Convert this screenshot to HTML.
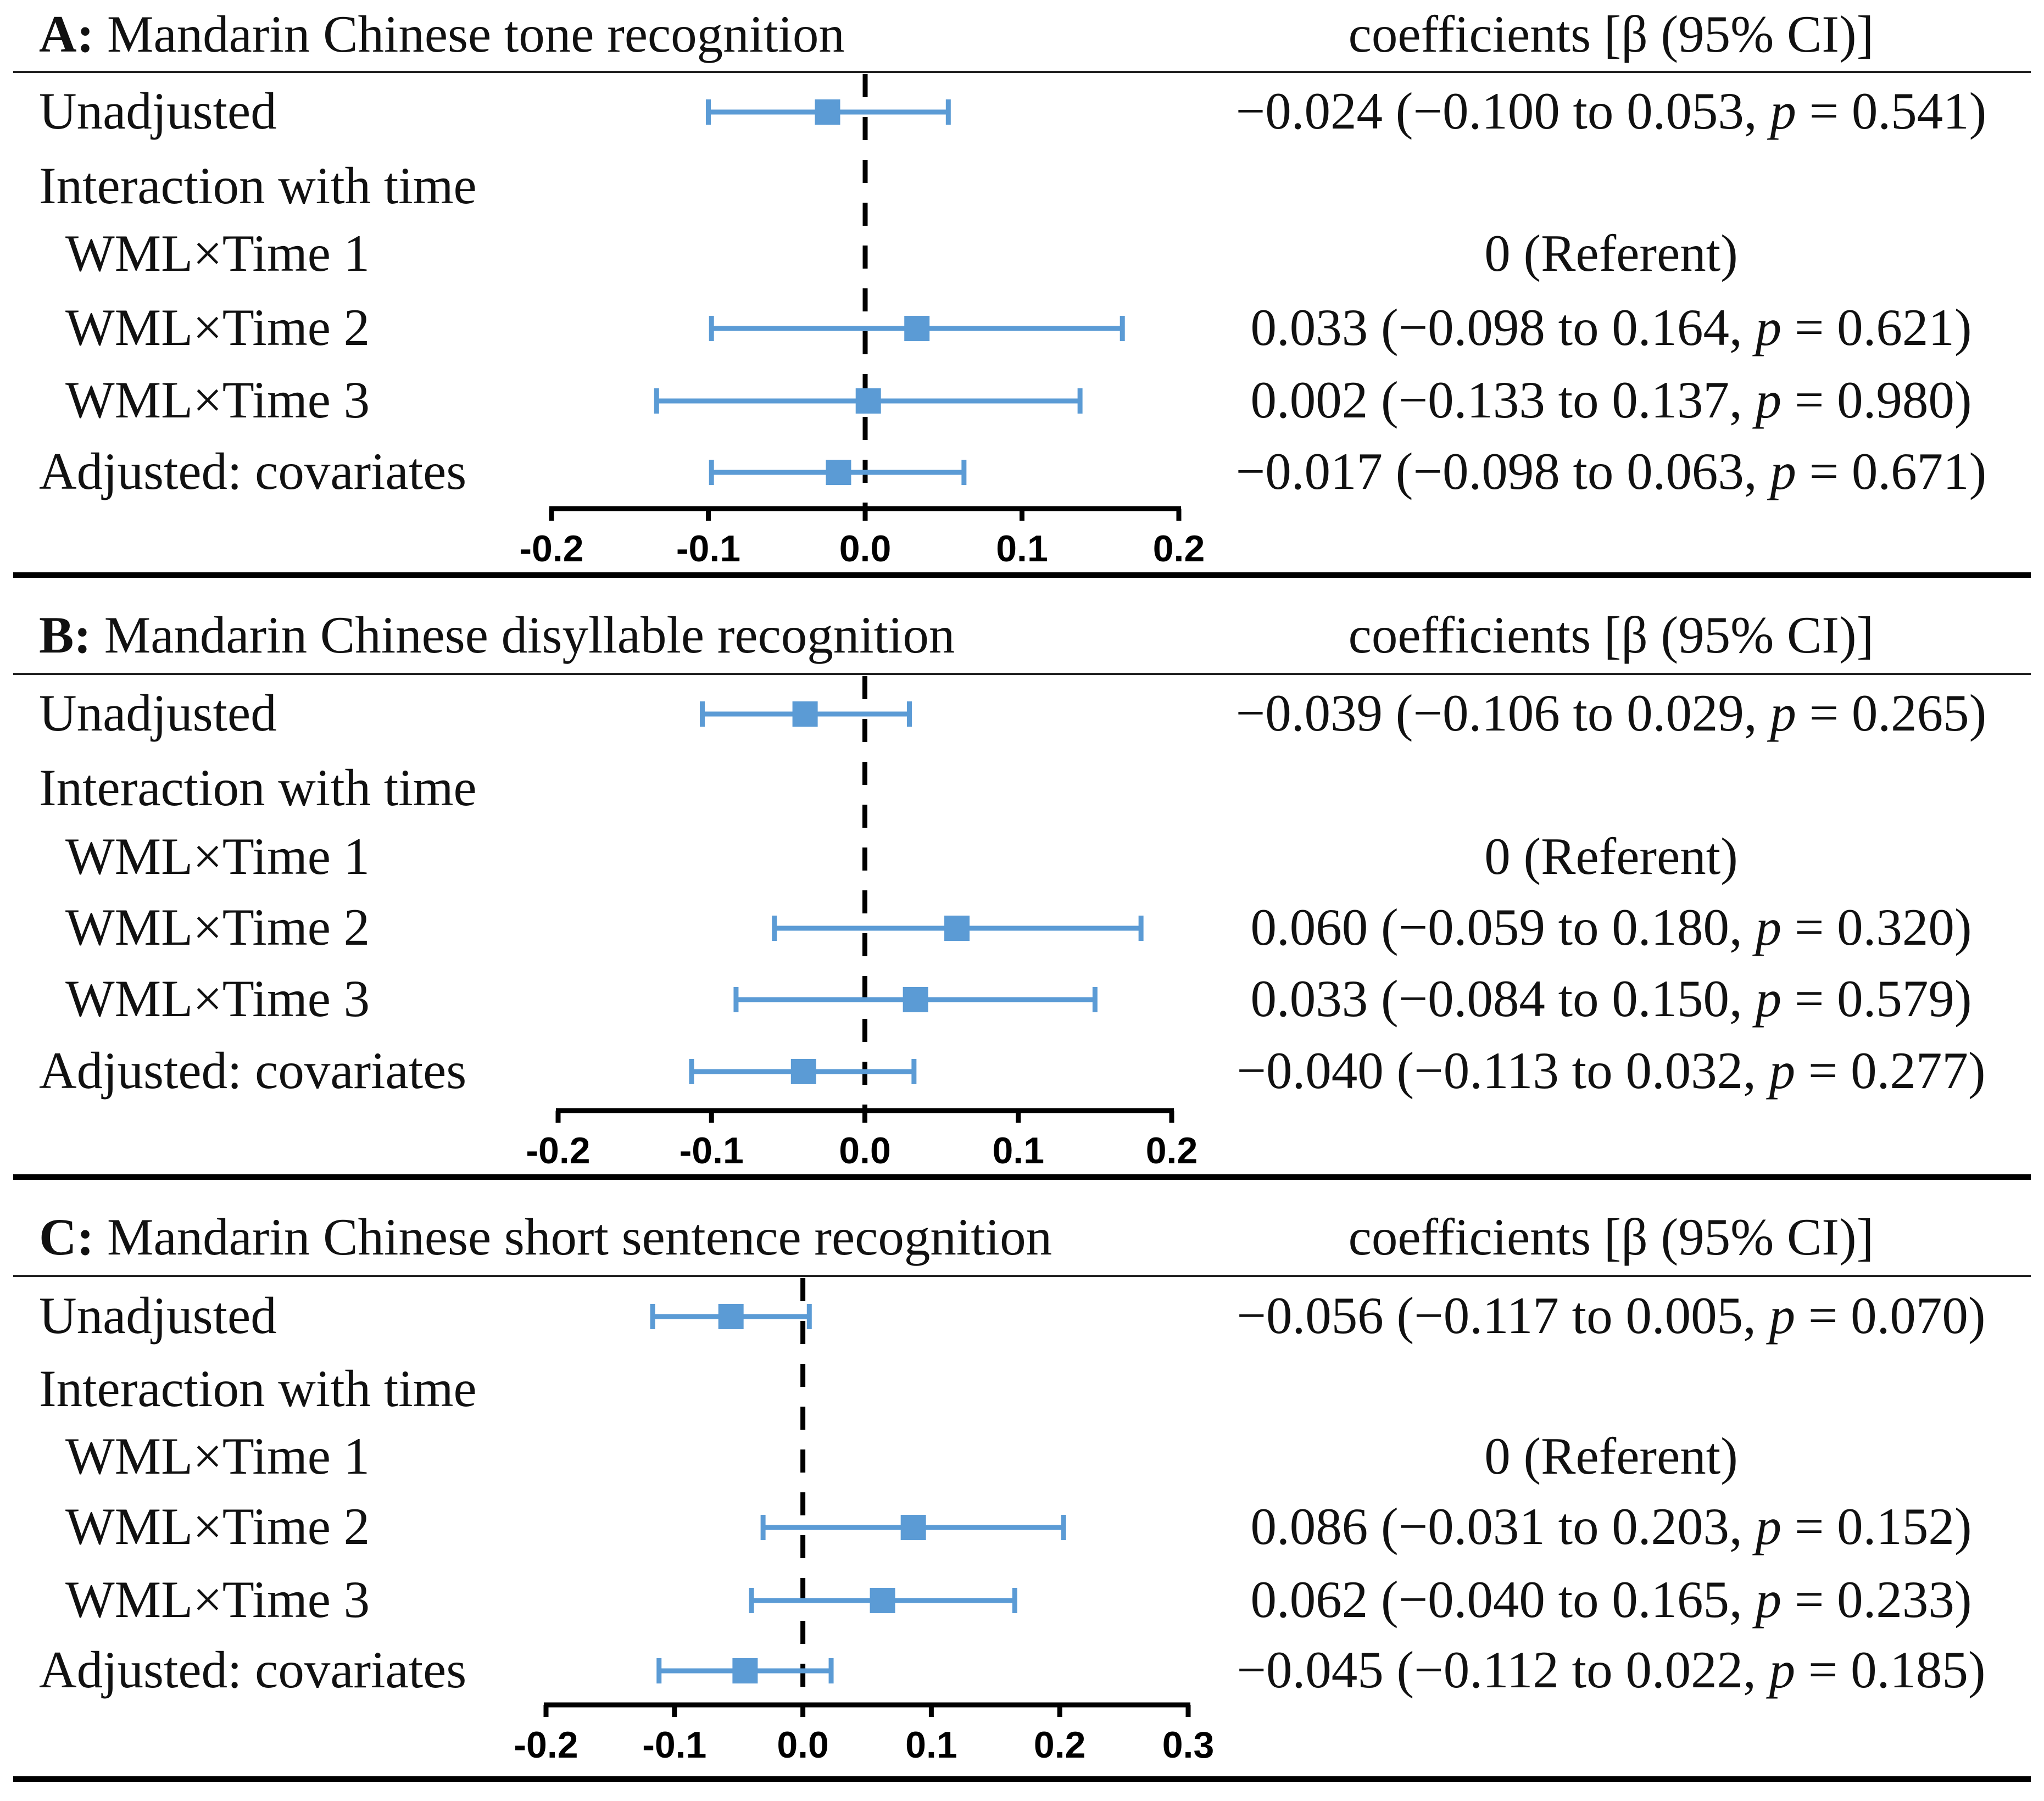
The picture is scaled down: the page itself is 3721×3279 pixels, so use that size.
<!DOCTYPE html>
<html><head><meta charset="utf-8"><style>
html,body{margin:0;padding:0;background:#fff}
svg{display:block}
.lab{font-family:"Liberation Serif",serif;font-size:95px;fill:#111}
.tick{font-family:"Liberation Sans",sans-serif;font-weight:bold;font-size:68px;fill:#000}
</style></head><body>
<svg id="chart" width="3721" height="3279" viewBox="0 0 3721 3279" xmlns="http://www.w3.org/2000/svg"></svg>
<script>
const rowLabels = ["Unadjusted","Interaction with time","WML×Time 1","WML×Time 2","WML×Time 3","Adjusted: covariates"];
const titlesA = ["A:"," Mandarin Chinese tone recognition"];
const titlesB = ["B:"," Mandarin Chinese disyllable recognition"];
const titlesC = ["C:"," Mandarin Chinese short sentence recognition"];
const estA = [-0.024,null,null,0.033,0.002,-0.017];
const loA  = [-0.100,null,null,-0.098,-0.133,-0.098];
const hiA  = [0.053,null,null,0.164,0.137,0.063];
const pA   = ["0.541",null,null,"0.621","0.980","0.671"];
const estB = [-0.039,null,null,0.060,0.033,-0.040];
const loB  = [-0.106,null,null,-0.059,-0.084,-0.113];
const hiB  = [0.029,null,null,0.180,0.150,0.032];
const pB   = ["0.265",null,null,"0.320","0.579","0.277"];
const estC = [-0.056,null,null,0.086,0.062,-0.045];
const loC  = [-0.117,null,null,-0.031,-0.040,-0.112];
const hiC  = [0.005,null,null,0.203,0.165,0.022];
const pC   = ["0.070",null,null,"0.152","0.233","0.185"];
const ticksAB = [-0.2,-0.1,0.0,0.1,0.2];
const ticksC = [-0.2,-0.1,0.0,0.1,0.2,0.3];

const NS="http://www.w3.org/2000/svg";
const svg=document.getElementById('chart');
function mk(tag,attrs,parent){const e=document.createElementNS(NS,tag);for(const k in attrs)e.setAttribute(k,attrs[k]);(parent||svg).appendChild(e);return e;}
function fmt(v){const s=Math.abs(v).toFixed(3);return (v<0?"−":"")+s;}

const panels=[
 {key:"a",titles:titlesA,est:estA,lo:loA,hi:hiA,p:pA,ticks:ticksAB,title:94,thin:131,rows:[204,340,463,598,730,860],axis:926,tickLab:1022,thick:1047,px0:1004,px1:2146},
 {key:"b",titles:titlesB,est:estB,lo:loB,hi:hiB,p:pB,ticks:ticksAB,title:1188,thin:1227,rows:[1300,1436,1561,1690,1820,1951],axis:2022,tickLab:2118,thick:2143,px0:1016,px1:2133},
 {key:"c",titles:titlesC,est:estC,lo:loC,hi:hiC,p:pC,ticks:ticksC,title:2284,thin:2323,rows:[2397,2530,2653,2781,2914,3042],axis:3104,tickLab:3200,thick:3239,px0:994,px1:2163}
];
const blue="#5b9bd5";
panels.forEach(P=>{
  const g=mk('g',{});
  
  
  const tmin=P.ticks[0],tmax=P.ticks[P.ticks.length-1];
  const x=v=>P.px0+(v-tmin)/(tmax-tmin)*(P.px1-P.px0);
  const t=mk('text',{x:71,y:P.title,class:'lab'},g);
  
  
  const b=mk('tspan',{'font-weight':'bold'},t);b.textContent=P.titles[0];
  const r=mk('tspan',{},t);r.textContent=P.titles[1];
  const ch=mk('text',{x:2933,y:P.title,class:'lab','text-anchor':'middle'},g);
  
  
  ch.textContent="coefficients [β (95% CI)]";
  const tl=mk('line',{x1:24,x2:3697,y1:P.thin,y2:P.thin,stroke:'#222','stroke-width':4},g);
  
  
  const bl=mk('line',{x1:24,x2:3697,y1:P.thick,y2:P.thick,stroke:'#000','stroke-width':10},g);
  
  
  const z=mk('line',{x1:x(0),x2:x(0),y1:P.thin+4,y2:P.axis,stroke:'#000','stroke-width':9,'stroke-dasharray':'42 36'},g);
  
  
  const ax=mk('line',{x1:x(tmin)-4,x2:x(tmax)+4,y1:P.axis,y2:P.axis,stroke:'#000','stroke-width':9},g);
  
  
  P.ticks.forEach(tv=>{
    const tk=mk('line',{x1:x(tv),x2:x(tv),y1:P.axis,y2:P.axis+22,stroke:'#000','stroke-width':9},g);
    
    
    const tt=mk('text',{x:x(tv),y:P.tickLab,class:'tick','text-anchor':'middle'},g);
    
    
    tt.textContent=tv.toFixed(1);
  });
  rowLabels.forEach((lab,i)=>{
    const y=P.rows[i];
    const indent=(i>=2&&i<=4);
    const lt=mk('text',{x:indent?119:71,y:y+30,class:'lab'},g);
    
    
    lt.textContent=lab;
    if(i===2){
      const rt=mk('text',{x:2933,y:y+30,class:'lab','text-anchor':'middle'},g);
      
      
      rt.textContent="0 (Referent)";
    }
    if(P.est[i]!==null){
      const e=P.est[i],lo=P.lo[i],hi=P.hi[i];
      const eg=mk('g',{},g);
      
      
      mk('line',{x1:x(lo),x2:x(hi),y1:y,y2:y,stroke:blue,'stroke-width':9},eg);
      mk('line',{x1:x(lo),x2:x(lo),y1:y-23,y2:y+23,stroke:blue,'stroke-width':9},eg);
      mk('line',{x1:x(hi),x2:x(hi),y1:y-23,y2:y+23,stroke:blue,'stroke-width':9},eg);
      mk('rect',{x:x(e)-23,y:y-23,width:46,height:46,fill:blue},eg);
      const vt=mk('text',{x:2933,y:y+30,class:'lab','text-anchor':'middle'},g);
      
      
      const s1=mk('tspan',{},vt);s1.textContent=fmt(e)+" ("+fmt(lo)+" to "+fmt(hi)+", ";
      const s2=mk('tspan',{'font-style':'italic'},vt);s2.textContent="p";
      const s3=mk('tspan',{},vt);s3.textContent=" = "+P.p[i]+")";
    }
  });
});
</script>
</body></html>
